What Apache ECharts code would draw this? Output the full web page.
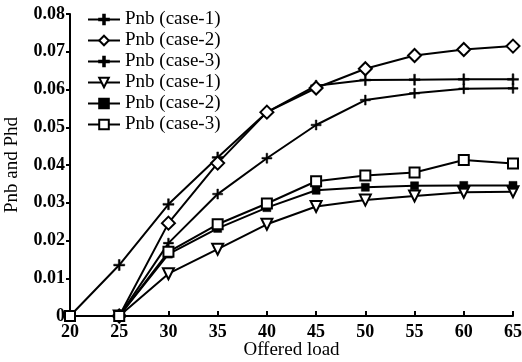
<!DOCTYPE html>
<html>
<head>
<meta charset="utf-8">
<script src="https://cdn.jsdelivr.net/npm/echarts@6/dist/echarts.min.js"></script>
<style>html,body{margin:0;padding:0;background:#fff}#c{width:522px;height:362px}</style>
</head>
<body>
<div id="c"></div>
<script>
const loads = [20, 25, 30, 35, 40, 45, 50, 55, 60, 65];
const seriesNames = ['Pnb (case-1)', 'Pnb (case-2)', 'Pnb (case-3)', 'Pnb (case-1)', 'Pnb (case-2)', 'Pnb (case-3)'];
const pnbCase1 = [0, 0.0135, 0.0296, 0.042, 0.054, 0.061, 0.0625, 0.0626, 0.0627, 0.0627];
const pnbCase2 = [null, 0, 0.0246, 0.0405, 0.0540, 0.0604, 0.0655, 0.069, 0.0706, 0.0715];
const pnbCase3 = [null, 0, 0.0193, 0.0323, 0.0418, 0.0506, 0.0572, 0.059, 0.0602, 0.0603];
const phdCase1 = [null, 0, 0.0112, 0.0177, 0.0243, 0.029, 0.0307, 0.0318, 0.0328, 0.0329];
const phdCase2 = [null, 0, 0.0164, 0.0232, 0.0287, 0.0333, 0.0341, 0.0345, 0.0346, 0.0346];
const phdCase3 = [0, 0, 0.017, 0.0243, 0.0298, 0.0357, 0.0372, 0.038, 0.0413, 0.0404];
const yTicks = [0, 0.01, 0.02, 0.03, 0.04, 0.05, 0.06, 0.07, 0.08];

const plusPath = 'path://M4.2,0h1.6v10h-1.6zM0,4.2h10v1.6h-10z';
const font = 'Liberation Serif';
function pairs(arr) { return loads.map((x, i) => [x, arr[i]]); }

const defs = [
  { data: pnbCase1, symbol: plusPath, size: 11, rotate: 0, fill: '#000' },
  { data: pnbCase2, symbol: 'diamond', size: 13, rotate: 0, fill: '#fff' },
  { data: pnbCase3, symbol: plusPath, size: 10, rotate: 0, fill: '#000' },
  { data: phdCase1, symbol: 'triangle', size: 11, rotate: 180, fill: '#fff' },
  { data: phdCase2, symbol: 'rect', size: 8, rotate: 0, fill: '#000' },
  { data: phdCase3, symbol: 'rect', size: 10, rotate: 0, fill: '#fff' }
];

const chart = echarts.init(document.getElementById('c'), null, { renderer: 'canvas' });
chart.setOption({
  animation: false,
  backgroundColor: '#fff',
  grid: { left: 70, right: 9, top: 14, bottom: 46, containLabel: false, outerBoundsMode: 'none' },
  legend: {
    orient: 'vertical', left: 82, top: 5,
    itemWidth: 32, itemHeight: 12, itemGap: 2,
    textStyle: { fontFamily: font, fontSize: 19, color: '#000', lineHeight: 18 },
    data: defs.map((d, i) => ({ name: seriesNames[i] + '\u200b'.repeat(i) }))
  },
  xAxis: {
    type: 'value', min: 20, max: 65, interval: 5,
    name: 'Offered load', nameLocation: 'middle', nameGap: 25, nameMoveOverlap: false,
    nameTextStyle: { fontFamily: font, fontSize: 19, color: '#000' },
    axisLine: { lineStyle: { color: '#000', width: 2 } },
    axisTick: { inside: true, length: 5, lineStyle: { color: '#000', width: 2 } },
    axisLabel: { fontFamily: font, fontSize: 18, fontWeight: 'bold', color: '#000', margin: 7 },
    splitLine: { show: false }
  },
  yAxis: {
    type: 'value', min: yTicks[0], max: yTicks[yTicks.length - 1], interval: 0.01,
    name: 'Pnb and Phd', nameLocation: 'middle', nameGap: 48, nameMoveOverlap: false,
    nameTextStyle: { fontFamily: font, fontSize: 19, color: '#000' },
    axisLine: { show: true, lineStyle: { color: '#000', width: 2 } },
    axisTick: { show: true, inside: false, length: 4, lineStyle: { color: '#000', width: 2 } },
    axisLabel: { fontFamily: font, fontSize: 18, fontWeight: 'bold', color: '#000', margin: 5,
      formatter: v => (v === 0 ? '0' : v.toFixed(2)) },
    splitLine: { show: false }
  },
  series: defs.map((d, i) => ({
    name: seriesNames[i] + '\u200b'.repeat(i),
    type: 'line',
    data: pairs(d.data),
    symbol: d.symbol,
    symbolSize: d.size,
    symbolRotate: d.rotate,
    showAllSymbol: true,
    lineStyle: { color: '#000', width: 2 },
    itemStyle: { color: d.fill, borderColor: '#000', borderWidth: d.fill === '#fff' ? 2 : 0.5 },
    z: 2 + i
  }))
});
</script>
</body>
</html>
